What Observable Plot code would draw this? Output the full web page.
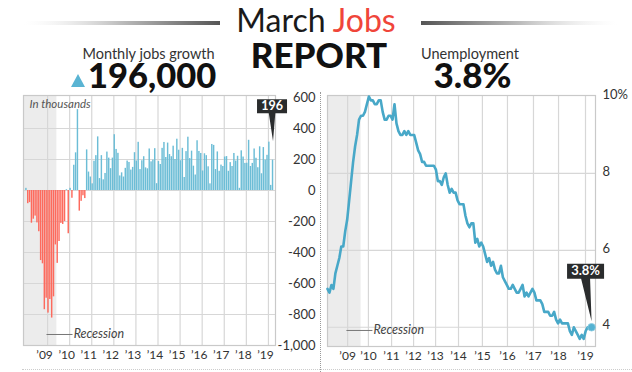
<!DOCTYPE html>
<html>
<head>
<meta charset="utf-8">
<script src="https://cdn.jsdelivr.net/npm/d3@7"></script>
<script src="https://cdn.jsdelivr.net/npm/@observablehq/plot@0.6"></script>
<style>
html,body{margin:0;padding:0;background:#fff;}
#wrap{position:relative;width:632px;height:372px;overflow:hidden;font-family:Lato,"Open Sans",sans-serif;color:#1a1a1a;background:#fff;}
.abs{position:absolute;}
#left,#right{position:absolute;top:0;}
#left{left:0;} #right{left:320px;}
#head{position:absolute;left:0;top:0;}
</style>
</head>
<body>
<div id="wrap">
  <div id="left"></div>
  <div id="right"></div>
  <div class="abs" style="left:320px;top:92px;height:280px;border-left:1.5px dotted #999;"></div>
  <div class="abs" style="left:22px;top:369px;width:610px;border-top:1px dotted #ccc;"></div>
  <svg id="head" width="632" height="95" font-family="Lato, sans-serif">
    <defs>
      <linearGradient id="gl" x1="0" x2="1" y1="0" y2="0">
        <stop offset="0" stop-color="#eee" stop-opacity="0"/>
        <stop offset="0.5" stop-color="#bbb"/>
        <stop offset="1" stop-color="#555"/>
      </linearGradient>
      <linearGradient id="gr" x1="1" x2="0" y1="0" y2="0">
        <stop offset="0" stop-color="#eee" stop-opacity="0"/>
        <stop offset="0.5" stop-color="#bbb"/>
        <stop offset="1" stop-color="#555"/>
      </linearGradient>
    </defs>
    <rect x="24" y="21" width="196" height="4" fill="url(#gl)"/>
    <rect x="421" y="21" width="196" height="4" fill="url(#gr)"/>
    <text x="316" y="32" text-anchor="middle" font-size="32" fill="#1a1a1a">March <tspan fill="#f0453a">Jobs</tspan></text>
    <text x="319" y="68" text-anchor="middle" font-size="35" font-weight="900" fill="#111">REPORT</text>
    <text x="148.5" y="59" text-anchor="middle" font-size="14.5" fill="#333">Monthly jobs growth</text>
    <polygon points="71,87 85,87 78,74" fill="#5ab4d3"/>
    <text x="88" y="88" font-size="34.5" font-weight="900" fill="#111">196,000</text>
    <text x="470" y="59" text-anchor="middle" font-size="14.5" fill="#333">Unemployment</text>
    <text x="472.5" y="88" text-anchor="middle" font-size="35" font-weight="900" fill="#111">3.8%</text>
  </svg>
</div>
<script>
// ---- data (Jan 2008 – Mar 2019, monthly) ----
const startYear = 2008;
const jobsChange = [
  14, -85, -78, -211, -185, -165, -209, -266, -452, -473, -769, -695,
  -791, -703, -823, -686, -351, -470, -329, -212, -219, -200, 5, -279,
  14, -50, 163, 243, 522, -133, -70, -34, -52, 262, 119, 87,
  43, 189, 225, 346, 77, 225, 69, 110, 248, 209, 141, 209,
  360, 265, 240, 94, 114, 87, 143, 190, 181, 132, 149, 244,
  190, 311, 135, 192, 218, 146, 140, 268, 185, 196, 270, 44,
  187, 168, 272, 310, 213, 306, 232, 218, 286, 200, 331, 260,
  192, 272, 84, 251, 344, 206, 254, 157, 100, 321, 252, 239,
  126, 237, 225, 153, 43, 297, 291, 135, 249, 124, 164, 155,
  216, 219, 124, 180, 155, 239, 190, 221, 14, 256, 216, 175,
  176, 324, 155, 175, 268, 208, 147, 282, 108, 277, 196, 227,
  312, 33, 196
];
const unemploymentRate = [
  5.0, 4.9, 5.1, 5.0, 5.4, 5.6, 5.8, 6.1, 6.1, 6.5, 6.8, 7.3,
  7.8, 8.3, 8.7, 9.0, 9.4, 9.5, 9.5, 9.6, 9.8, 10.0, 9.9, 9.9,
  9.8, 9.8, 9.9, 9.9, 9.6, 9.4, 9.4, 9.5, 9.5, 9.4, 9.8, 9.3,
  9.1, 9.0, 9.0, 9.1, 9.0, 9.1, 9.0, 9.0, 9.0, 8.8, 8.6, 8.5,
  8.3, 8.3, 8.2, 8.2, 8.2, 8.2, 8.2, 8.1, 7.8, 7.8, 7.7, 7.9,
  8.0, 7.7, 7.5, 7.6, 7.5, 7.5, 7.3, 7.2, 7.2, 7.2, 6.9, 6.7,
  6.6, 6.7, 6.7, 6.2, 6.3, 6.1, 6.2, 6.1, 5.9, 5.7, 5.8, 5.6,
  5.7, 5.5, 5.4, 5.4, 5.6, 5.3, 5.2, 5.1, 5.0, 5.0, 5.1, 5.0,
  4.9, 4.9, 5.0, 5.1, 4.8, 4.9, 4.8, 4.9, 5.0, 4.9, 4.7, 4.7,
  4.7, 4.6, 4.4, 4.4, 4.4, 4.3, 4.3, 4.4, 4.2, 4.1, 4.2, 4.1,
  4.1, 4.1, 4.1, 3.9, 3.8, 4.0, 3.9, 3.8, 3.7, 3.8, 3.7, 3.9,
  4.0, 3.95, 4.0
];
const yearLabels = ["’09","’10","’11","’12","’13","’14","’15","’16","’17","’18","’19"];
const leftGridYears = [2009, 2010, 2011, 2012, 2013, 2014, 2015, 2016, 2017, 2018, 2019];
const rightGridYears = [2008.85, 2009.73, 2010.71, 2011.64, 2012.57, 2013.54, 2014.55, 2015.61, 2016.71, 2017.77, 2018.91];
const jobsTickValues = [600, 400, 200, 0, -200, -400, -600, -800, -1000];
const jobsTickLabels = ["600", "400", "200", "0", "-200", "-400", "-600", "-800", "-1,000"];
const jobsGridValues = [400, 200, 0, -200, -400, -600, -800];
const rateTickValues = [10, 8, 6, 4];
const rateTickLabels = ["10%", "8", "6", "4"];
const rateGridValues = [8, 6, 4];
const recession = [{start: 2007.92, end: 2009.42}];
const jobsCallout = "196";
const rateCallout = "3.8%";

// ---- tables built from the arrays ----
const jobs = jobsChange.map((v, i) => ({t: startYear + i / 12, value: v}));
const rate = unemploymentRate.map((v, i) => ({t: startYear + i / 12, value: v}));
const lastJob = jobs[jobs.length - 1];
const lastRate = rate[rate.length - 1];
const leftTicks = leftGridYears.map((t, i) => ({t, label: yearLabels[i]}));
const rightTicks = rightGridYears.map((t, i) => ({t, label: yearLabels[i]}));
const jobsTicks = jobsTickValues.map((v, i) => ({v, label: jobsTickLabels[i]}));
const rateTicks = rateTickValues.map((v, i) => ({v, label: rateTickLabels[i]}));

const BLUE = "#6cbdd6", RED = "#fd6a5d", LINE = "#48a8c8", GRID = "#d7d7d7", SHADE = "#ececec", DARK = "#2a2c2d";

function callout(w, h, bx, by, tipY, r) {
  return {
    draw(ctx) {
      ctx.moveTo(bx - w / 2, by - h / 2);
      ctx.lineTo(bx + w / 2, by - h / 2);
      ctx.lineTo(bx + w / 2, by + h / 2);
      ctx.lineTo(bx - w / 2, by + h / 2);
      ctx.closePath();
      ctx.moveTo(bx + r, by + h / 2 - 0.3);
      ctx.lineTo(0, tipY);
      ctx.lineTo(bx - r, by + h / 2 - 0.3);
      ctx.closePath();
    }
  };
}

const leftPlot = Plot.plot({
  width: 320, height: 372,
  marginLeft: 23, marginRight: 45, marginTop: 95, marginBottom: 27,
  x: {domain: [2007.91, 2019.32], axis: null},
  y: {domain: [-1000, 613], axis: null},
  style: {background: "transparent", fontFamily: "Lato, sans-serif", overflow: "visible"},
  marks: [
    Plot.rect(recession, {x1: "start", x2: "end", fill: SHADE, clip: true}),
    Plot.ruleX(leftGridYears, {stroke: GRID, strokeWidth: 1.2}),
    Plot.ruleY(jobsGridValues, {stroke: GRID, strokeWidth: 1.2}),
    Plot.rect(jobs, {x1: "t", x2: d => d.t + 1 / 12, y1: () => 0, y2: "value",
      fill: d => d.value < 0 ? RED : BLUE, insetLeft: 0.2, insetRight: 0.2}),
    Plot.frame({stroke: "#c9c9c9", strokeWidth: 1.2}),
    Plot.text(jobsTicks, {y: "v", text: "label", frameAnchor: "right", dx: 40, textAnchor: "end",
      fontSize: 13, fill: "#333"}),
    Plot.text(leftTicks, {x: "t", text: "label", frameAnchor: "bottom", lineAnchor: "bottom", dy: 13, dx: -3,
      fontSize: 12, fill: "#333"}),
    Plot.text(["In thousands"], {frameAnchor: "top-left", lineAnchor: "top", textAnchor: "start", dx: 6, dy: 4,
      fontSize: 11.5, fontStyle: "italic", fill: "#555"}),
    Plot.link([{x1: 2008.95, x2: 2010.13, y: -929}], {x1: "x1", x2: "x2", y1: "y", y2: "y", stroke: "#777"}),
    Plot.text([{x: 2010.18, y: -929, label: "Recession"}], {x: "x", y: "y", text: "label", textAnchor: "start",
      fontSize: 12.5, fontStyle: "italic", fill: "#444"}),
    Plot.dot([lastJob], {x: d => d.t + 1 / 24, y: "value", symbol: callout(30, 14, -1, -54, -19, 3.3),
      fill: DARK, stroke: "none"}),
    Plot.text([lastJob], {x: d => d.t + 1 / 24, y: "value", text: () => jobsCallout, dx: -1, dy: -54,
      fill: "white", fontWeight: "bold", fontSize: 12.5})
  ]
});
document.getElementById("left").appendChild(leftPlot);

const rightPlot = Plot.plot({
  width: 312, height: 372,
  marginLeft: 7, marginRight: 37, marginTop: 95, marginBottom: 26,
  x: {domain: [2008, 2019.333], axis: null},
  y: {domain: [3.5, 10.026], axis: null},
  style: {background: "transparent", fontFamily: "Lato, sans-serif", overflow: "visible"},
  marks: [
    Plot.rect(recession, {x1: "start", x2: "end", fill: SHADE, clip: true}),
    Plot.ruleX(rightGridYears, {stroke: GRID, strokeWidth: 1.2}),
    Plot.ruleY(rateGridValues, {stroke: GRID, strokeWidth: 1.2}),
    Plot.frame({stroke: "#c9c9c9", strokeWidth: 1.2}),
    Plot.line(rate, {x: "t", y: "value", stroke: LINE, strokeWidth: 2.6, strokeLinejoin: "round"}),
    Plot.text(rateTicks, {y: "v", text: "label", frameAnchor: "right", dx: 7, dy: -2, textAnchor: "start",
      fontSize: 13, fill: "#333"}),
    Plot.text(rightTicks, {x: "t", text: "label", frameAnchor: "bottom", lineAnchor: "bottom", dy: 13.5,
      fontSize: 12, fill: "#333"}),
    Plot.link([{x1: 2008.8, x2: 2009.9, y: 3.917}], {x1: "x1", x2: "x2", y1: "y", y2: "y", stroke: "#777"}),
    Plot.text([{x: 2009.95, y: 3.917, label: "Recession"}], {x: "x", y: "y", text: "label", textAnchor: "start",
      fontSize: 12.5, fontStyle: "italic", fill: "#444"}),
    Plot.dot([lastRate], {x: "t", y: "value", symbol: callout(37, 15, -6, -56, -6, 4.5),
      fill: DARK, stroke: "none"}),
    Plot.text([lastRate], {x: "t", y: "value", text: () => rateCallout, dx: -6, dy: -56,
      fill: "white", fontWeight: "bold", fontSize: 13}),
    Plot.dot([lastRate], {x: "t", y: "value", r: 3.8, fill: "#55b2d2", stroke: "#8ccbe0", strokeWidth: 0.8})
  ]
});
document.getElementById("right").appendChild(rightPlot);
</script>
</body>
</html>
